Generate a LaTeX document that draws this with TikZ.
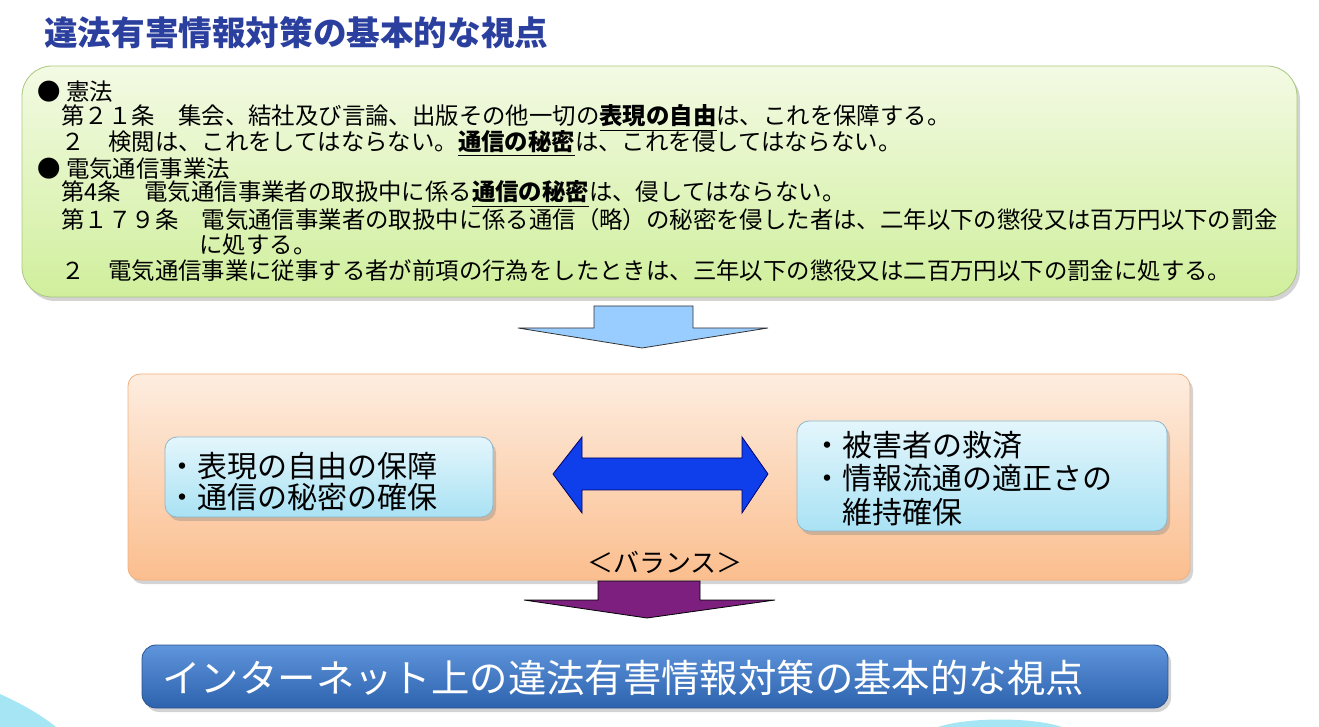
\documentclass[tikz,border=0pt]{standalone}
\usepackage{fontspec}
\setmainfont{Noto Sans CJK JP}
\usetikzlibrary{arrows.meta,shadows}

\definecolor{titleblue}{HTML}{2B3F9E}
\definecolor{lawtop}{HTML}{F3FAE4}
\definecolor{lawbot}{HTML}{D0EF9C}
\definecolor{lawline}{HTML}{A9C77E}
\definecolor{baltop}{HTML}{FDEDE0}
\definecolor{balbot}{HTML}{FBBE8E}
\definecolor{balline}{HTML}{F2B07E}
\definecolor{itemtop}{HTML}{E4F6FC}
\definecolor{itembot}{HTML}{A9E2F4}
\definecolor{itemline}{HTML}{8FB6CB}
\definecolor{restop}{HTML}{5F95DC}
\definecolor{resbot}{HTML}{2D62AD}
\definecolor{resline}{HTML}{2A5291}
\definecolor{downblue}{HTML}{99CCFF}
\definecolor{bothblue}{HTML}{0F3FEA}
\definecolor{downpurple}{HTML}{7C1F7E}
\definecolor{swoosh}{HTML}{A6E6F4}

\tikzset{
  boxshadow/.style={drop shadow={opacity=0.35,shadow xshift=1.5pt,shadow yshift=-2pt}},
  lawbox/.style={draw=lawline,rounded corners=15pt,top color=lawtop,bottom color=lawbot,
    boxshadow,minimum width=637.5pt,minimum height=115.5pt,inner sep=0pt},
  balancebox/.style={draw=balline,rounded corners=6pt,top color=baltop,bottom color=balbot,
    boxshadow,minimum width=531pt,minimum height=103pt,inner sep=0pt},
  itembox/.style={draw=itemline,rounded corners=6pt,top color=itemtop,bottom color=itembot,
    boxshadow,inner sep=0pt},
  resultbox/.style={draw=resline,rounded corners=7pt,top color=restop,bottom color=resbot,
    boxshadow,minimum width=513pt,minimum height=31.5pt,inner sep=0pt},
  linetext/.style={anchor=west,inner sep=0pt,font=\fontsize{11.7}{13}\selectfont},
  itemtext/.style={anchor=west,inner sep=0pt,font=\fontsize{15}{17}\selectfont}
}

\begin{document}
\begin{tikzpicture}[x=0.5pt,y=-0.5pt]
\useasboundingbox (0,0) rectangle (1319,727);
\fill[swoosh] (0,694) .. controls (20,703) and (40,714) .. (56,727) -- (0,727) -- cycle;
\fill[swoosh] (938,727) .. controls (968,717) and (1032,717) .. (1062,727) -- cycle;

\node (title) [anchor=west,inner sep=0pt,text=titleblue,font=\fontsize{16.8}{18}\selectfont\bfseries]
  at (44,33) {違法有害情報対策の基本的な視点};

\node (law) [lawbox] at (659.5,181.5) {};
\node (l1) [linetext] at (37,92) {● 憲法};
\node (l2) [linetext] at (61,118) {第２１条　集会、結社及び言論、出版その他一切の\underline{\textbf{表現の自由}}は、これを保障する。};
\node (l3) [linetext] at (61,144) {２　検閲は、これをしてはならない。\underline{\textbf{通信の秘密}}は、これを侵してはならない。};
\node (l4) [linetext] at (37,169) {● 電気通信事業法};
\node (l5) [linetext] at (61,194) {第4条　電気通信事業者の取扱中に係る\underline{\textbf{通信の秘密}}は、侵してはならない。};
\node (l6) [linetext] at (61,220) {第１７９条　電気通信事業者の取扱中に係る通信（略）の秘密を侵した者は、二年以下の懲役又は百万円以下の罰金};
\node (l7) [linetext] at (199,245) {に処する。};
\node (l8) [linetext] at (61,271) {２　電気通信事業に従事する者が前項の行為をしたときは、三年以下の懲役又は二百万円以下の罰金に処する。};

\draw[draw=black!80,fill=downblue] (594,306) -- (594,328) -- (518,328) -- (642,348)
  -- (768,328) -- (693,328) -- (693,306) -- cycle;

\node (balance) [balancebox] at (659,477) {};
\node (rights) [itembox,minimum width=164pt,minimum height=40pt] at (329,477) {};
\node (remedy) [itembox,minimum width=185pt,minimum height=55pt] at (982,476) {};
\node (r1) [itemtext] at (167,466) {・表現の自由の保障};
\node (r2) [itemtext] at (167,497) {・通信の秘密の確保};
\node (s1) [itemtext] at (812,445) {・被害者の救済};
\node (s2) [itemtext] at (812,478) {・情報流通の適正さの};
\node (s3) [itemtext] at (842,512) {維持確保};
\draw[draw=blue!40!black,fill=bothblue] (553,474) -- (582,437) -- (582,458) -- (742,458)
  -- (742,437) -- (768,474) -- (742,513) -- (742,490) -- (582,490) -- (582,513) -- cycle;
\node (bal) [inner sep=0pt,font=\fontsize{13}{15}\selectfont] at (665,562) {＜バランス＞};

\draw[draw=black,fill=downpurple] (598,581) -- (598,600) -- (524,600) -- (647,618)
  -- (775,600) -- (700,600) -- (700,581) -- cycle;

\node (result) [resultbox] at (655,676.5) {};
\node (res) [anchor=west,inner sep=0pt,text=white,font=\fontsize{19.2}{21}\selectfont]
  at (162,678) {インターネット上の違法有害情報対策の基本的な視点};
\end{tikzpicture}
\end{document}
